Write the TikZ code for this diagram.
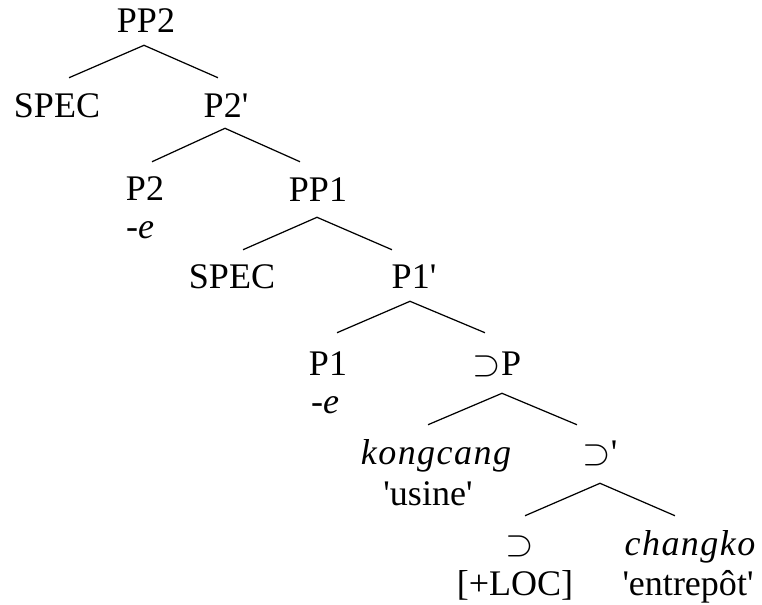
\documentclass[tikz,border=0pt]{standalone}
\usepackage{fontspec}
\setmainfont{Liberation Serif}[Ligatures=TeXOff]
\usepackage{tikz}
\usetikzlibrary{calc, positioning}

\begin{document}
\begin{tikzpicture}[
  x=0.02cm, y=-0.02cm,
  cat/.style={anchor=base, inner xsep=2pt, inner ysep=6.8pt, text height=12.5pt, text depth=0pt, font=\fontsize{20.5}{24}\selectfont},
  word/.style={cat, font=\fontsize{20.5}{24}\selectfont\itshape\addfontfeatures{LetterSpace=4}},
  branch/.style={line width=0.7pt}
]
  \useasboundingbox (0,0) rectangle (762,605);

  \node[cat] (pp2) at (146,32) {PP2};
  \node[cat] (spec2) at (57,117) {SPEC};
  \node[cat] (p2bar) at (226,117) {P2'};
  \node[cat] (p2) at (145,200) {P2};
  \node[cat] (e2) at (140,238) {\textit{-e}};
  \node[cat] (pp1) at (318,201) {PP1};
  \node[cat] (spec1) at (232,288) {SPEC};
  \node[cat] (p1bar) at (414,288) {P1'};
  \node[cat] (p1) at (328,375) {P1};
  \node[cat] (e1) at (325,413) {\textit{-e}};
  \node[cat] (supp) at (497,375) {$\supset$P};
  \node[word] (kong) at (436,464) {kongcang};
  \node[cat] (usine) at (428,505) {'usine'};
  \node[cat] (supbar) at (600,464) {$\supset$'};
  \node[cat] (sup) at (520,555) {$\supset$};
  \node[cat] (loc) at (515,595) {[+LOC]};
  \node[word] (chang) at (690,555) {changko};
  \node[cat] (entre) at (688,595) {'entrepôt'};

  % branches
  \draw[branch] ($(pp2.south)+(-2,1)$) -- ($(spec2.north)+(12,-5)$);
  \draw[branch] ($(pp2.south)+(-2,1)$) -- ($(p2bar.north)+(-8,-5)$);
  \draw[branch] ($(p2bar.south)+(-1,-1)$) -- ($(p2.north)+(7,-4)$);
  \draw[branch] ($(p2bar.south)+(-1,-1)$) -- ($(pp1.north)+(-18,-5)$);
  \draw[branch] ($(pp1.south)+(-1,4)$) -- ($(spec1.north)+(11,-4)$);
  \draw[branch] ($(pp1.south)+(-1,4)$) -- ($(p1bar.north)+(-22,-4)$);
  \draw[branch] ($(p1bar.south)+(-4,1)$) -- ($(p1.north)+(9,-8)$);
  \draw[branch] ($(p1bar.south)+(-4,1)$) -- ($(supp.north)+(-12,-8)$);
  \draw[branch] ($(supp.south)+(5,6)$) -- ($(kong.north)+(-8,-5)$);
  \draw[branch] ($(supp.south)+(5,6)$) -- ($(supbar.north)+(-23,-5)$);
  \draw[branch] ($(supbar.south)+(0,7)$) -- ($(sup.north)+(5,-5)$);
  \draw[branch] ($(supbar.south)+(0,7)$) -- ($(chang.north)+(-15,-5)$);
\end{tikzpicture}
\end{document}
